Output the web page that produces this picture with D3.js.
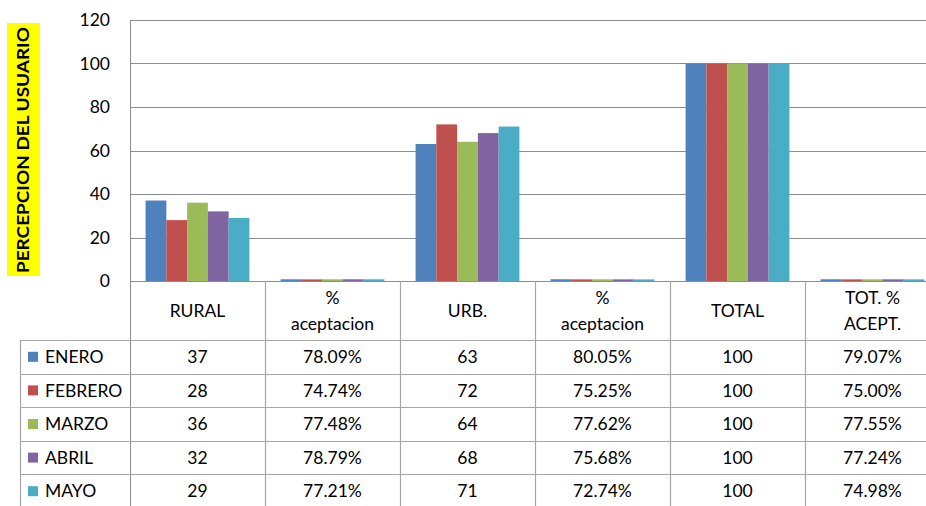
<!DOCTYPE html>
<html>
<head>
<meta charset="utf-8">
<script src="https://cdn.jsdelivr.net/npm/d3@7"></script>
<style>
  body { margin: 0; background: #fff; }
  svg { display: block; font-family: Lato, "Open Sans", sans-serif; }
</style>
</head>
<body>
<svg id="chart" width="926" height="506"></svg>
<script>
// Categories along the x axis (header row of the data table)
const categories = ['RURAL', '% aceptacion', 'URB.', '% aceptacion', 'TOTAL', 'TOT. % ACEPT.'];
const headerLines = [['RURAL'], ['%', 'aceptacion'], ['URB.'], ['%', 'aceptacion'], ['TOTAL'], ['TOT. %', 'ACEPT.']];
const isPercent = [false, true, false, true, false, true];

// Series (months) and their values per category
const months = ['ENERO', 'FEBRERO', 'MARZO', 'ABRIL', 'MAYO'];
const enero   = [37, 0.7809, 63, 0.8005, 100, 0.7907];
const febrero = [28, 0.7474, 72, 0.7525, 100, 0.7500];
const marzo   = [36, 0.7748, 64, 0.7762, 100, 0.7755];
const abril   = [32, 0.7879, 68, 0.7568, 100, 0.7724];
const mayo    = [29, 0.7721, 71, 0.7274, 100, 0.7498];
const seriesValues = [enero, febrero, marzo, abril, mayo];

const yTicks = [0, 20, 40, 60, 80, 100, 120];
const colors = ['#4f81bd', '#c0504d', '#9bbb59', '#8064a2', '#4bacc6'];

const svg = d3.select('#chart');

// layout
const plotLeft = 130, plotRight = 940, plotTop = 20, plotBottom = 281;
const tableLeft = 20, headerBottom = 340, rowH = 33.6;
const gridColor = '#8c8c8c', tableColor = '#a6a6a6';

const x = d3.scaleBand().domain(d3.range(categories.length)).range([plotLeft, plotRight]);
const bw = x.bandwidth();
const gap = bw * 1.5 / 6.5;
const xs = d3.scaleBand().domain(d3.range(months.length)).range([gap / 2, bw - gap / 2]);
const y = d3.scaleLinear().domain([0, 120]).range([plotBottom, plotTop]);

// gridlines
svg.append('g')
  .selectAll('line')
  .data(yTicks.slice(1))
  .join('line')
  .attr('x1', plotLeft).attr('x2', plotRight)
  .attr('y1', d => Math.round(y(d)) + 0.5).attr('y2', d => Math.round(y(d)) + 0.5)
  .attr('stroke', gridColor).attr('stroke-width', 1.2);

// y axis
const yAxis = svg.append('g')
  .attr('transform', `translate(${plotLeft - 18},0)`)
  .call(d3.axisLeft(y).tickValues(yTicks).tickSize(0).tickPadding(2));
yAxis.select('.domain').remove();
yAxis.selectAll('text')
  .attr('font-size', 17.5).attr('fill', '#000')
  .style('font-family', 'Lato, "Open Sans", sans-serif');

svg.append('line')
  .attr('x1', plotLeft + 0.5).attr('x2', plotLeft + 0.5)
  .attr('y1', plotTop).attr('y2', 506)
  .attr('stroke', gridColor);

// bars
seriesValues.forEach((vals, si) => {
  svg.append('g')
    .selectAll('rect')
    .data(vals)
    .join('rect')
    .attr('x', (d, ci) => x(ci) + xs(si))
    .attr('width', xs.bandwidth())
    .attr('y', d => y(d))
    .attr('height', d => Math.max(1.5, y(0) - y(d)))
    .attr('fill', colors[si]);
});

// axis baseline / table top
svg.append('line')
  .attr('x1', plotLeft).attr('x2', plotRight)
  .attr('y1', plotBottom + 0.5).attr('y2', plotBottom + 0.5)
  .attr('stroke', gridColor);

// table grid
const tbl = svg.append('g').attr('stroke', tableColor).attr('stroke-width', 1.2);
d3.range(1, categories.length + 1).forEach(i => {
  const xx = i < categories.length ? x(i) : plotRight;
  tbl.append('line').attr('x1', xx + 0.5).attr('x2', xx + 0.5).attr('y1', plotBottom).attr('y2', 506);
});
tbl.append('line').attr('x1', tableLeft + 0.5).attr('x2', tableLeft + 0.5).attr('y1', headerBottom).attr('y2', 506);
d3.range(months.length).forEach(i => {
  const yy = Math.round(headerBottom + i * rowH) + 0.5;
  tbl.append('line').attr('x1', tableLeft).attr('x2', plotRight).attr('y1', yy).attr('y2', yy);
});

// header labels
headerLines.forEach((lines, ci) => {
  const cx = x(ci) + bw / 2;
  const cy = (plotBottom + headerBottom) / 2;
  lines.forEach((t, li) => {
    svg.append('text')
      .attr('x', cx)
      .attr('y', cy + (li - (lines.length - 1) / 2) * 26)
      .attr('dy', '0.35em')
      .attr('text-anchor', 'middle')
      .attr('font-size', 17.5)
      .text(t);
  });
});

// data rows
const fmtPct = d3.format('.2%');
months.forEach((m, si) => {
  const cy = headerBottom + si * rowH + rowH / 2;
  svg.append('rect')
    .attr('x', 28).attr('y', cy - 5)
    .attr('width', 10).attr('height', 10)
    .attr('fill', colors[si]);
  svg.append('text')
    .attr('x', 45).attr('y', cy).attr('dy', '0.35em')
    .attr('font-size', 17.5)
    .text(m);
  seriesValues[si].forEach((v, ci) => {
    svg.append('text')
      .attr('x', x(ci) + bw / 2).attr('y', cy).attr('dy', '0.35em')
      .attr('text-anchor', 'middle')
      .attr('font-size', 17.5)
      .text(isPercent[ci] ? fmtPct(v) : v);
  });
});

// y axis title with yellow highlight
const title = svg.append('g').attr('transform', 'translate(23,150) rotate(-90)');
title.append('rect')
  .attr('x', -126).attr('y', -16)
  .attr('width', 253).attr('height', 33)
  .attr('fill', '#ffff00');
title.append('text')
  .attr('text-anchor', 'middle')
  .attr('dy', '0.36em')
  .attr('font-size', 17.5)
  .attr('font-weight', 'bold')
  .attr('textLength', 246)
  .attr('lengthAdjust', 'spacingAndGlyphs')
  .text('PERCEPCION DEL USUARIO');
</script>
</body>
</html>
